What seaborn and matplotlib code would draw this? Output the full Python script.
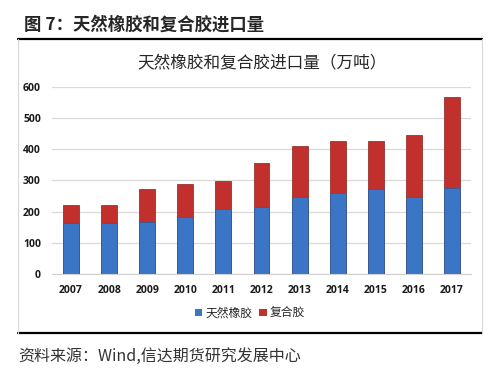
"""Natural rubber and compound rubber imports, stacked bars (seaborn)."""
import matplotlib
matplotlib.use("Agg")
import numpy as np
import pandas as pd
import matplotlib.pyplot as plt
from matplotlib.lines import Line2D
from matplotlib.patches import Patch
from matplotlib.font_manager import FontProperties
import seaborn as sns

years = ["2007", "2008", "2009", "2010", "2011", "2012",
         "2013", "2014", "2015", "2016", "2017"]
natural = [162, 164, 168, 184, 210, 215, 247, 259, 273, 248, 277]
compound = [58, 57, 105, 104, 88, 141, 162, 167, 153, 199, 289]
yticks = [0, 100, 200, 300, 400, 500, 600]
series_names = ["天然橡胶", "复合胶"]

BLUE = "#3b76c6"
RED = "#c1302c"
CJK = ["Noto Sans CJK SC", "DejaVu Sans"]

sns.set_style("white")
plt.rcParams["font.family"] = CJK

df = pd.DataFrame({"year": years, "natural": natural, "compound": compound})
df["total"] = df["natural"] + df["compound"]

fig = plt.figure(figsize=(5, 3.75), dpi=100)
ax = fig.add_axes([0.104, 0.2693, 0.838, 0.499])

sns.barplot(data=df, x="year", y="total", color=RED, width=0.42,
            saturation=1, edgecolor="#8a1f1c", linewidth=0.5, ax=ax)
sns.barplot(data=df, x="year", y="natural", color=BLUE, width=0.42,
            saturation=1, edgecolor="#2a5a9c", linewidth=0.5, ax=ax)

ax.set_ylim(0, 600)
ax.set_xlim(-0.5, 10.5)
ax.set_yticks(yticks)
ax.yaxis.grid(True, color="#d9d9d9", lw=0.9)
ax.set_axisbelow(True)
for s in ["top", "right", "left"]:
    ax.spines[s].set_visible(False)
ax.spines["bottom"].set_color("#d0d0d0")
ax.set_xlabel(""); ax.set_ylabel("")
ax.tick_params(axis="both", length=0, pad=8)
tick_fp = FontProperties(family="Open Sans", weight="bold", size=7.5)
for lab in ax.get_xticklabels() + ax.get_yticklabels():
    lab.set_fontproperties(tick_fp)
    lab.set_color("#1a1a1a")

ax.set_title("天然橡胶和复合胶进口量（万吨）", fontsize=12, pad=14)

handles = [Patch(facecolor=BLUE, edgecolor="none"),
           Patch(facecolor=RED, edgecolor="none")]
fig.legend(handles, series_names, loc="center", bbox_to_anchor=(0.5, 0.165),
           ncol=2, frameon=False, handlelength=0.6, handleheight=0.6,
           handletextpad=0.3, columnspacing=0.6,
           prop=FontProperties(family=CJK, weight="medium", size=8.5))

# frame around the chart
W, H = 500, 375
def fx(x): return x / W
def fy(y): return 1 - y / H
fig.add_artist(Line2D([fx(18), fx(482)], [fy(39), fy(39)], color="black", lw=1.6))
fig.add_artist(Line2D([fx(18), fx(482)], [fy(333), fy(333)], color="black", lw=1.6))
fig.add_artist(Line2D([fx(18), fx(18)], [fy(39), fy(333)], color="#d8d8d8", lw=0.8))
fig.add_artist(Line2D([fx(482), fx(482)], [fy(39), fy(333)], color="#d8d8d8", lw=0.8))

fig.text(fx(24), fy(25), "图 7：天然橡胶和复合胶进口量", fontsize=12.5,
         fontweight="bold", va="center", ha="left")
fig.text(fx(18), fy(356), "资料来源：Wind,信达期货研究发展中心", fontsize=11.5,
         va="center", ha="left", color="#333333")

fig.savefig("out.png", dpi=100)
